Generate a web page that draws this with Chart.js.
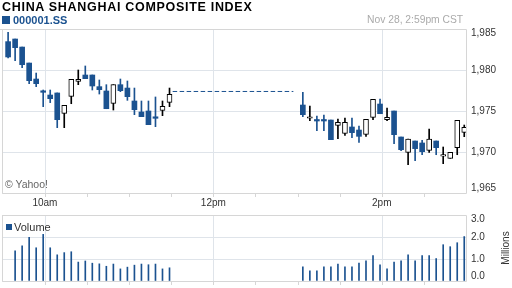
<!DOCTYPE html>
<html>
<head>
<meta charset="utf-8">
<script src="https://cdn.jsdelivr.net/npm/chart.js@4.4.0/dist/chart.umd.min.js"></script>
<style>
  body { margin: 0; width: 512px; height: 288px; position: relative; overflow: hidden; background: #fff;
         font-family: "Liberation Sans", Arial, sans-serif; }
  canvas { position: absolute; left: 0; }
  #price { top: 0; }
  #volume { top: 212px; }
  .txt { position: absolute; white-space: nowrap; line-height: 1; }
  #title { left: 2px; top: 1px; font-size: 12.5px; font-weight: bold; letter-spacing: 0.7px; color: #000; }
  #symbol { left: 13px; top: 15px; font-size: 11px; font-weight: bold; color: #1b5290; }
  #stamp { left: 367px; top: 15px; font-size: 10.3px; color: #aaa; }
  .sq { position: absolute; background: #1b5290; }
  #yahoo { left: 5px; top: 179px; font-size: 10.5px; color: #666; }
  #vol { left: 14px; top: 222px; font-size: 11px; color: #333; }
</style>
</head>
<body>
<canvas id="price" width="512" height="212"></canvas>
<canvas id="volume" width="512" height="76"></canvas>
<div class="txt" id="title">CHINA SHANGHAI COMPOSITE INDEX</div>
<div class="sq" style="left:2px;top:16px;width:8px;height:8px"></div>
<div class="txt" id="symbol">000001.SS</div>
<div class="txt" id="stamp">Nov 28, 2:59pm CST</div>
<div class="txt" id="yahoo">© Yahoo!</div>
<div class="sq" style="left:6px;top:224px;width:6px;height:6px"></div>
<div class="txt" id="vol">Volume</div>
<script>
// 5-minute bars, Nov 28
const times = [
  '09:30','09:35','09:40','09:45','09:50','09:55','10:00','10:05','10:10','10:15','10:20','10:25',
  '10:30','10:35','10:40','10:45','10:50','10:55','11:00','11:05','11:10','11:15','11:20','11:25',
  '13:00','13:05','13:10','13:15','13:20','13:25','13:30','13:35','13:40','13:45','13:50','13:55',
  '14:00','14:05','14:10','14:15','14:20','14:25','14:30','14:35','14:40','14:45','14:50','14:55'
];
const opens = [
  1983.46, 1983.78, 1982.80, 1980.85, 1978.90, 1977.28, 1976.95, 1977.20, 1974.72, 1976.79, 1978.62, 1979.39,
  1979.39, 1977.97, 1977.44, 1975.93, 1978.21, 1977.80, 1976.22, 1974.88, 1975.00, 1974.11, 1975.08, 1976.06,
  1975.73, 1974.12, 1973.78, 1973.78, 1973.90, 1973.25, 1972.28, 1973.05, 1972.68, 1972.15, 1974.23, 1975.85,
  1973.94, 1975.00, 1971.83, 1969.96, 1971.34, 1971.10, 1970.20, 1971.34, 1969.50, 1969.23, 1970.53, 1972.40
];
const highs = [
  1984.59, 1983.78, 1982.80, 1980.85, 1979.63, 1977.56, 1977.56, 1977.20, 1975.69, 1978.86, 1980.00, 1980.49,
  1979.39, 1978.78, 1978.21, 1978.21, 1978.90, 1978.66, 1977.80, 1976.22, 1976.22, 1976.71, 1976.22, 1977.80,
  1977.28, 1975.61, 1974.39, 1974.51, 1973.90, 1974.02, 1974.15, 1974.15, 1973.17, 1973.98, 1976.42, 1976.46,
  1975.37, 1975.00, 1971.83, 1971.59, 1971.34, 1971.42, 1972.80, 1971.34, 1970.61, 1969.96, 1973.86, 1973.29
];
const lows = [
  1981.46, 1981.14, 1980.28, 1978.33, 1977.97, 1975.53, 1976.02, 1972.97, 1972.97, 1975.89, 1978.21, 1978.94,
  1977.56, 1977.07, 1975.28, 1975.12, 1977.36, 1976.30, 1974.55, 1974.31, 1973.33, 1973.09, 1974.43, 1975.53,
  1974.31, 1973.82, 1972.60, 1972.60, 1971.50, 1971.63, 1972.03, 1971.75, 1971.18, 1971.91, 1973.94, 1974.67,
  1973.82, 1971.02, 1970.16, 1968.46, 1968.94, 1969.67, 1969.96, 1969.67, 1968.58, 1969.23, 1969.67, 1971.87
];
const closes = [
  1981.59, 1982.72, 1980.65, 1978.70, 1978.33, 1977.28, 1976.50, 1973.94, 1975.69, 1978.86, 1978.86, 1978.94,
  1978.05, 1977.60, 1975.28, 1978.21, 1977.48, 1976.75, 1975.16, 1974.31, 1973.33, 1974.11, 1975.57, 1977.03,
  1974.55, 1974.25, 1973.78, 1973.78, 1971.50, 1973.62, 1973.62, 1972.36, 1971.91, 1973.98, 1976.42, 1974.67,
  1974.23, 1972.11, 1970.28, 1971.59, 1970.41, 1970.04, 1971.59, 1970.53, 1969.60, 1969.96, 1973.86, 1973.01
];
// millions of shares
const volumes = [
  null, 1.37, 1.60, 1.98, 1.51, 2.12, 1.51, 1.19, 1.29, 1.33, 0.86, 0.91,
  0.81, 0.78, 0.67, 0.77, 0.55, 0.63, 0.72, 0.77, 0.74, 0.77, 0.55, 0.60,
  0.64, 0.46, 0.46, 0.64, 0.64, 0.77, 0.64, 0.64, 0.81, 0.92, 1.16, 0.74,
  0.55, 0.86, 0.92, 1.19, 0.92, 1.16, 1.16, 1.02, 1.65, 1.56, 1.74, 2.02
];
// lunch break: last morning level carried across as a dashed line
const gapFrom = '11:31', gapTo = '12:57', gapValue = 1977.38;

const priceTicks = [1965, 1970, 1975, 1980, 1985];
const priceTickLabels = ['1,965', '1,970', '1,975', '1,980', '1,985'];
const volumeTicks = [0, 1, 2, 3];
const volumeTickLabels = ['0.0', '1.0', '2.0', '3.0'];
const hourTimes = ['10:00', '12:00', '14:00'];
const hourLabels = ['10am', '12pm', '2pm'];

const BLUE = '#1b5290';
const GRID = '#dfe4ea';
const FRAME = '#d6d6d6';
const FONT = '"Liberation Sans", Arial, sans-serif';

function minutes(t) {
  const p = t.split(':').map(Number);
  return (p[0] - 9) * 60 + p[1] - 30;
}
const xs = times.map(t => minutes(t) + 3.75);
const isUp = i => closes[i] > opens[i];

const xScale = () => ({
  type: 'linear', min: -0.6, max: 330, offset: false,
  ticks: { display: false },
  grid: { display: false, drawTicks: false },
  border: { display: false }
});

// vertical hour lines, frame, minor time ticks and right-hand labels
function framePlugin(ticks, labels, showHours) {
  return {
    id: 'frame',
    beforeDatasetsDraw(chart) {
      const ctx = chart.ctx, a = chart.chartArea, x = chart.scales.x;
      ctx.save();
      ctx.strokeStyle = GRID;
      ctx.lineWidth = 1;
      ctx.beginPath();
      hourTimes.forEach(t => {
        const px = Math.round(x.getPixelForValue(minutes(t))) + 0.5;
        ctx.moveTo(px, a.top);
        ctx.lineTo(px, a.bottom);
      });
      ctx.stroke();
      ctx.restore();
    },
    afterDraw(chart) {
      const ctx = chart.ctx, a = chart.chartArea;
      const x = chart.scales.x, y = chart.scales.y;
      ctx.save();
      ctx.strokeStyle = FRAME;
      ctx.lineWidth = 1;
      ctx.beginPath();
      ctx.moveTo(showHours ? 0 : a.left, a.top + 0.5);
      ctx.lineTo(a.right + 0.5, a.top + 0.5);
      ctx.lineTo(a.right + 0.5, a.bottom + 0.5);
      ctx.lineTo(a.left + 0.5, a.bottom + 0.5);
      ctx.lineTo(a.left + 0.5, a.top + 0.5);
      for (let m = 30; m <= 300; m += 30) {
        const px = Math.round(x.getPixelForValue(m)) + 0.5;
        ctx.moveTo(px, a.bottom);
        ctx.lineTo(px, a.bottom + 4);
      }
      ctx.stroke();
      ctx.fillStyle = '#333';
      ctx.font = '10px ' + FONT;
      ctx.textBaseline = 'middle';
      ctx.textAlign = 'left';
      ticks.forEach((v, i) => {
        let py = y.getPixelForValue(v);
        py = Math.min(Math.max(py, a.top + 4), a.bottom - 5);
        ctx.fillText(labels[i], a.right + 5, py);
      });
      if (showHours) {
        ctx.textAlign = 'center';
        hourTimes.forEach((t, i) => {
          ctx.fillText(hourLabels[i], x.getPixelForValue(minutes(t)), a.bottom + 10.5);
        });
      } else {
        ctx.save();
        ctx.translate(506, (a.top + a.bottom) / 2);
        ctx.rotate(-Math.PI / 2);
        ctx.textAlign = 'center';
        ctx.fillText('Millions', 0, 0);
        ctx.restore();
      }
      ctx.restore();
    }
  };
}

new Chart(document.getElementById('price'), {
  type: 'bar',
  data: {
    datasets: [
      {
        data: xs.map((x, i) => ({ x: x, y: [opens[i], closes[i]] })),
        backgroundColor: c => isUp(c.dataIndex) ? '#fff' : BLUE,
        borderColor: '#000',
        borderWidth: c => isUp(c.dataIndex) ? 1 : 0,
        borderSkipped: false,
        barThickness: 5,
        minBarLength: 1.5,
        grouped: false
      },
      {
        data: xs.map((x, i) => ({ x: x, y: [lows[i], highs[i]] })),
        backgroundColor: c => isUp(c.dataIndex) ? '#000' : BLUE,
        barThickness: 1,
        grouped: false
      },
      {
        type: 'line',
        data: [{ x: minutes(gapFrom), y: gapValue }, { x: minutes(gapTo), y: gapValue }],
        borderColor: BLUE,
        borderWidth: 1,
        borderDash: [4.5, 2.5],
        pointRadius: 0
      }
    ]
  },
  options: {
    responsive: false,
    animation: false,
    layout: { padding: { left: 2, top: 29, right: 46, bottom: 19 } },
    plugins: { legend: { display: false }, tooltip: { enabled: false } },
    scales: {
      x: xScale(),
      y: {
        position: 'right', min: 1965, max: 1985,
        afterBuildTicks: s => { s.ticks = priceTicks.map(v => ({ value: v })); },
        ticks: { display: false },
        grid: { color: GRID, drawTicks: false },
        border: { display: false }
      }
    }
  },
  plugins: [framePlugin(priceTicks, priceTickLabels, true)]
});

new Chart(document.getElementById('volume'), {
  type: 'bar',
  data: {
    datasets: [{
      data: xs.map((x, i) => ({ x: x, y: volumes[i] })),
      backgroundColor: BLUE,
      barThickness: 1,
      grouped: false
    }]
  },
  options: {
    responsive: false,
    animation: false,
    layout: { padding: { left: 2, top: 3, right: 46, bottom: 7 } },
    plugins: { legend: { display: false }, tooltip: { enabled: false } },
    scales: {
      x: xScale(),
      y: {
        position: 'right', min: 0, max: 3,
        afterBuildTicks: s => { s.ticks = volumeTicks.map(v => ({ value: v })); },
        ticks: { display: false },
        grid: { color: GRID, drawTicks: false },
        border: { display: false }
      }
    }
  },
  plugins: [framePlugin(volumeTicks, volumeTickLabels, false)]
});
</script>
</body>
</html>
